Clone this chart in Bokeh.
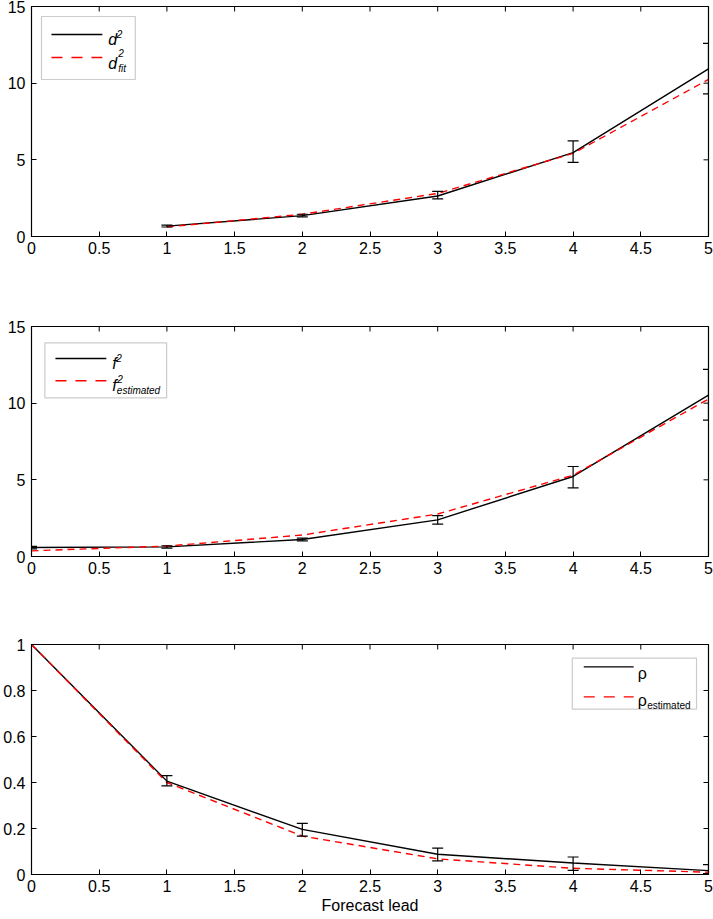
import math
from bokeh.plotting import figure
from bokeh.layouts import column
from bokeh.models import (Range1d, FixedTicker, CustomJSTickFormatter,
                          BoxAnnotation, Arrow, Label)
from bokeh.embed import file_html
from bokeh.resources import INLINE

# ---------------- data ----------------
x_ticks = [0, 0.5, 1, 1.5, 2, 2.5, 3, 3.5, 4, 4.5, 5]
y_ticks_sq = [0, 5, 10, 15]
y_ticks_rho = [0, 0.2, 0.4, 0.6, 0.8, 1.0]

d2_lead = [1, 2, 3, 4, 5]
d2 = [0.68, 1.36, 2.64, 5.47, 10.93]
d2_lo = [0.62, 1.28, 2.45, 4.83, 9.30]
d2_hi = [0.74, 1.45, 2.94, 6.23, 12.60]
d2_fit = [0.62, 1.45, 2.81, 5.42, 10.24]

f2_lead = [0, 1, 2, 3, 4, 5]
f2 = [0.59, 0.63, 1.11, 2.39, 5.22, 10.53]
f2_lo = [0.50, 0.55, 1.02, 2.11, 4.48, 8.90]
f2_hi = [0.66, 0.70, 1.20, 2.67, 5.87, 12.20]
f2_est = [0.37, 0.68, 1.40, 2.77, 5.30, 10.27]

rho_lead = [0, 1, 2, 3, 4, 5]
rho = [1.0, 0.406, 0.196, 0.088, 0.050, 0.017]
rho_est = [1.0, 0.400, 0.167, 0.068, 0.027, 0.010]
rho_err_lead = [1, 2, 3, 4, 5]
rho_lo = [0.385, 0.167, 0.059, 0.018, 0.004]
rho_hi = [0.430, 0.222, 0.115, 0.076, 0.043]

# ---------------- styling ----------------
FONT = "Liberation Sans"
W = 713
BL, BR = 30, 5
FW, FH = W - BL - BR, 230
HS, VS = FW / 678.4, FH / 230.0   # reference-pixel -> our pixel scale
FMT = CustomJSTickFormatter(code="return String(Math.round(tick*1000)/1000);")


def make_fig(y_end, y_ticks, top_border, bottom_border, xlabel=None):
    p = figure(width=W, height=top_border + FH + bottom_border,
               min_border_left=BL, min_border_right=BR,
               min_border_top=top_border, min_border_bottom=bottom_border,
               x_range=Range1d(0, 5), y_range=Range1d(0, y_end),
               output_backend="svg", toolbar_location=None)
    p.grid.visible = False
    p.outline_line_color = "black"
    p.outline_line_width = 1.2
    p.background_fill_color = "white"
    p.border_fill_color = "white"
    for ax, tk in ((p.xaxis[0], x_ticks), (p.yaxis[0], y_ticks)):
        ax.ticker = FixedTicker(ticks=tk)
        ax.formatter = FMT
        ax.major_tick_in = 5
        ax.major_tick_out = 0
        ax.minor_tick_line_color = None
        ax.axis_line_color = "black"
        ax.major_tick_line_color = "black"
        ax.major_label_text_font = FONT
        ax.major_label_text_font_size = "16px"
        ax.major_label_text_color = "black"
    p.yaxis[0].major_label_standoff = 6
    p.xaxis[0].major_label_standoff = 5
    if xlabel:
        p.xaxis[0].axis_label = xlabel
        p.xaxis[0].axis_label_text_font = FONT
        p.xaxis[0].axis_label_text_font_size = "16px"
        p.xaxis[0].axis_label_text_font_style = "normal"
        p.xaxis[0].axis_label_text_color = "black"
        p.xaxis[0].axis_label_standoff = 2
    # mirrored inward ticks on the top and right edges of the box
    p.scatter(x_ticks, [y_end] * len(x_ticks), marker="dash", angle=math.pi / 2,
              size=10, line_color="black", line_width=1)
    p.scatter([5] * len(y_ticks), y_ticks, marker="dash",
              size=10, line_color="black", line_width=1)
    return p


def draw_series(p, lead, main, other, err_lead, lo, hi):
    p.line(lead, main, line_color="black", line_width=1.4)
    p.line(lead, other, line_color="red", line_width=1.4, line_dash="7 5")
    p.segment(x0=err_lead, y0=lo, x1=err_lead, y1=hi, line_color="black", line_width=1.2)
    p.scatter(err_lead, lo, marker="dash", size=11, line_color="black", line_width=1.2)
    p.scatter(err_lead, hi, marker="dash", size=11, line_color="black", line_width=1.2)


def legend(p, y_end, box, rows, texts):
    """box/rows/texts given in reference pixels relative to the frame top-left."""
    def X(px):
        return px * HS * 5.0 / FW

    def Y(py):
        return y_end - py * VS * y_end / FH

    l, t, r, b = box
    p.add_layout(BoxAnnotation(left=X(l), right=X(r), top=Y(t), bottom=Y(b),
                               fill_color="white", fill_alpha=1.0,
                               line_color="#555555", line_width=1.2))
    for (x0, x1, y, color, dash) in rows:
        p.add_layout(Arrow(end=None, x_start=X(x0), x_end=X(x1), y_start=Y(y), y_end=Y(y),
                           line_color=color, line_width=1.4, line_dash=dash))
    for (x, y, txt, size, style) in texts:
        p.add_layout(Label(x=X(x), y=Y(y), text=txt, text_font=FONT,
                           text_font_size=size, text_font_style=style,
                           text_color="black", text_baseline="alphabetic",
                           text_align="left"))


# ---------------- panel 1 ----------------
p1 = make_fig(15, y_ticks_sq, 6, 84)
draw_series(p1, d2_lead, d2, d2_fit, d2_lead, d2_lo, d2_hi)
legend(p1, 15, (10, 10, 104, 73),
       [(20, 71, 28, "black", "solid"), (20, 71, 51, "red", "11 9")],
       [(77, 33, "d", "16px", "italic"), (85.5, 27, "2", "10px", "italic"),
        (77, 57, "d", "16px", "italic"), (87, 46, "2", "10px", "italic"),
        (87, 61.5, "fit", "10px", "italic")])

# ---------------- panel 2 ----------------
p2 = make_fig(15, y_ticks_sq, 6, 82)
draw_series(p2, f2_lead, f2, f2_est, f2_lead, f2_lo, f2_hi)
legend(p2, 15, (13.4, 16.3, 135.4, 71.3),
       [(24, 75, 32, "black", "solid"), (24, 75, 54.3, "red", "11 9")],
       [(81, 37, "f", "16px", "italic"), (85, 31, "2", "10px", "italic"),
        (81, 59, "f", "16px", "italic"), (86, 52.6, "2", "10px", "italic"),
        (85.5, 64, "estimated", "10px", "italic")])

# ---------------- panel 3 ----------------
p3 = make_fig(1.0, y_ticks_rho, 6, 44, xlabel="Forecast lead")
draw_series(p3, rho_lead, rho, rho_est, rho_err_lead, rho_lo, rho_hi)
legend(p3, 1.0, (541.9, 13.7, 666.4, 64.7),
       [(553.4, 603.4, 22.4, "black", "solid"), (553.4, 603.4, 52.4, "red", "11 9")],
       [(607.5, 28.5, "ρ", "16px", "normal"),
        (607.5, 55.5, "ρ", "16px", "normal"),
        (617, 61, "estimated", "10px", "normal")])

layout = column(p1, p2, p3, spacing=0)
open("out.html", "w").write(file_html(layout, INLINE))
